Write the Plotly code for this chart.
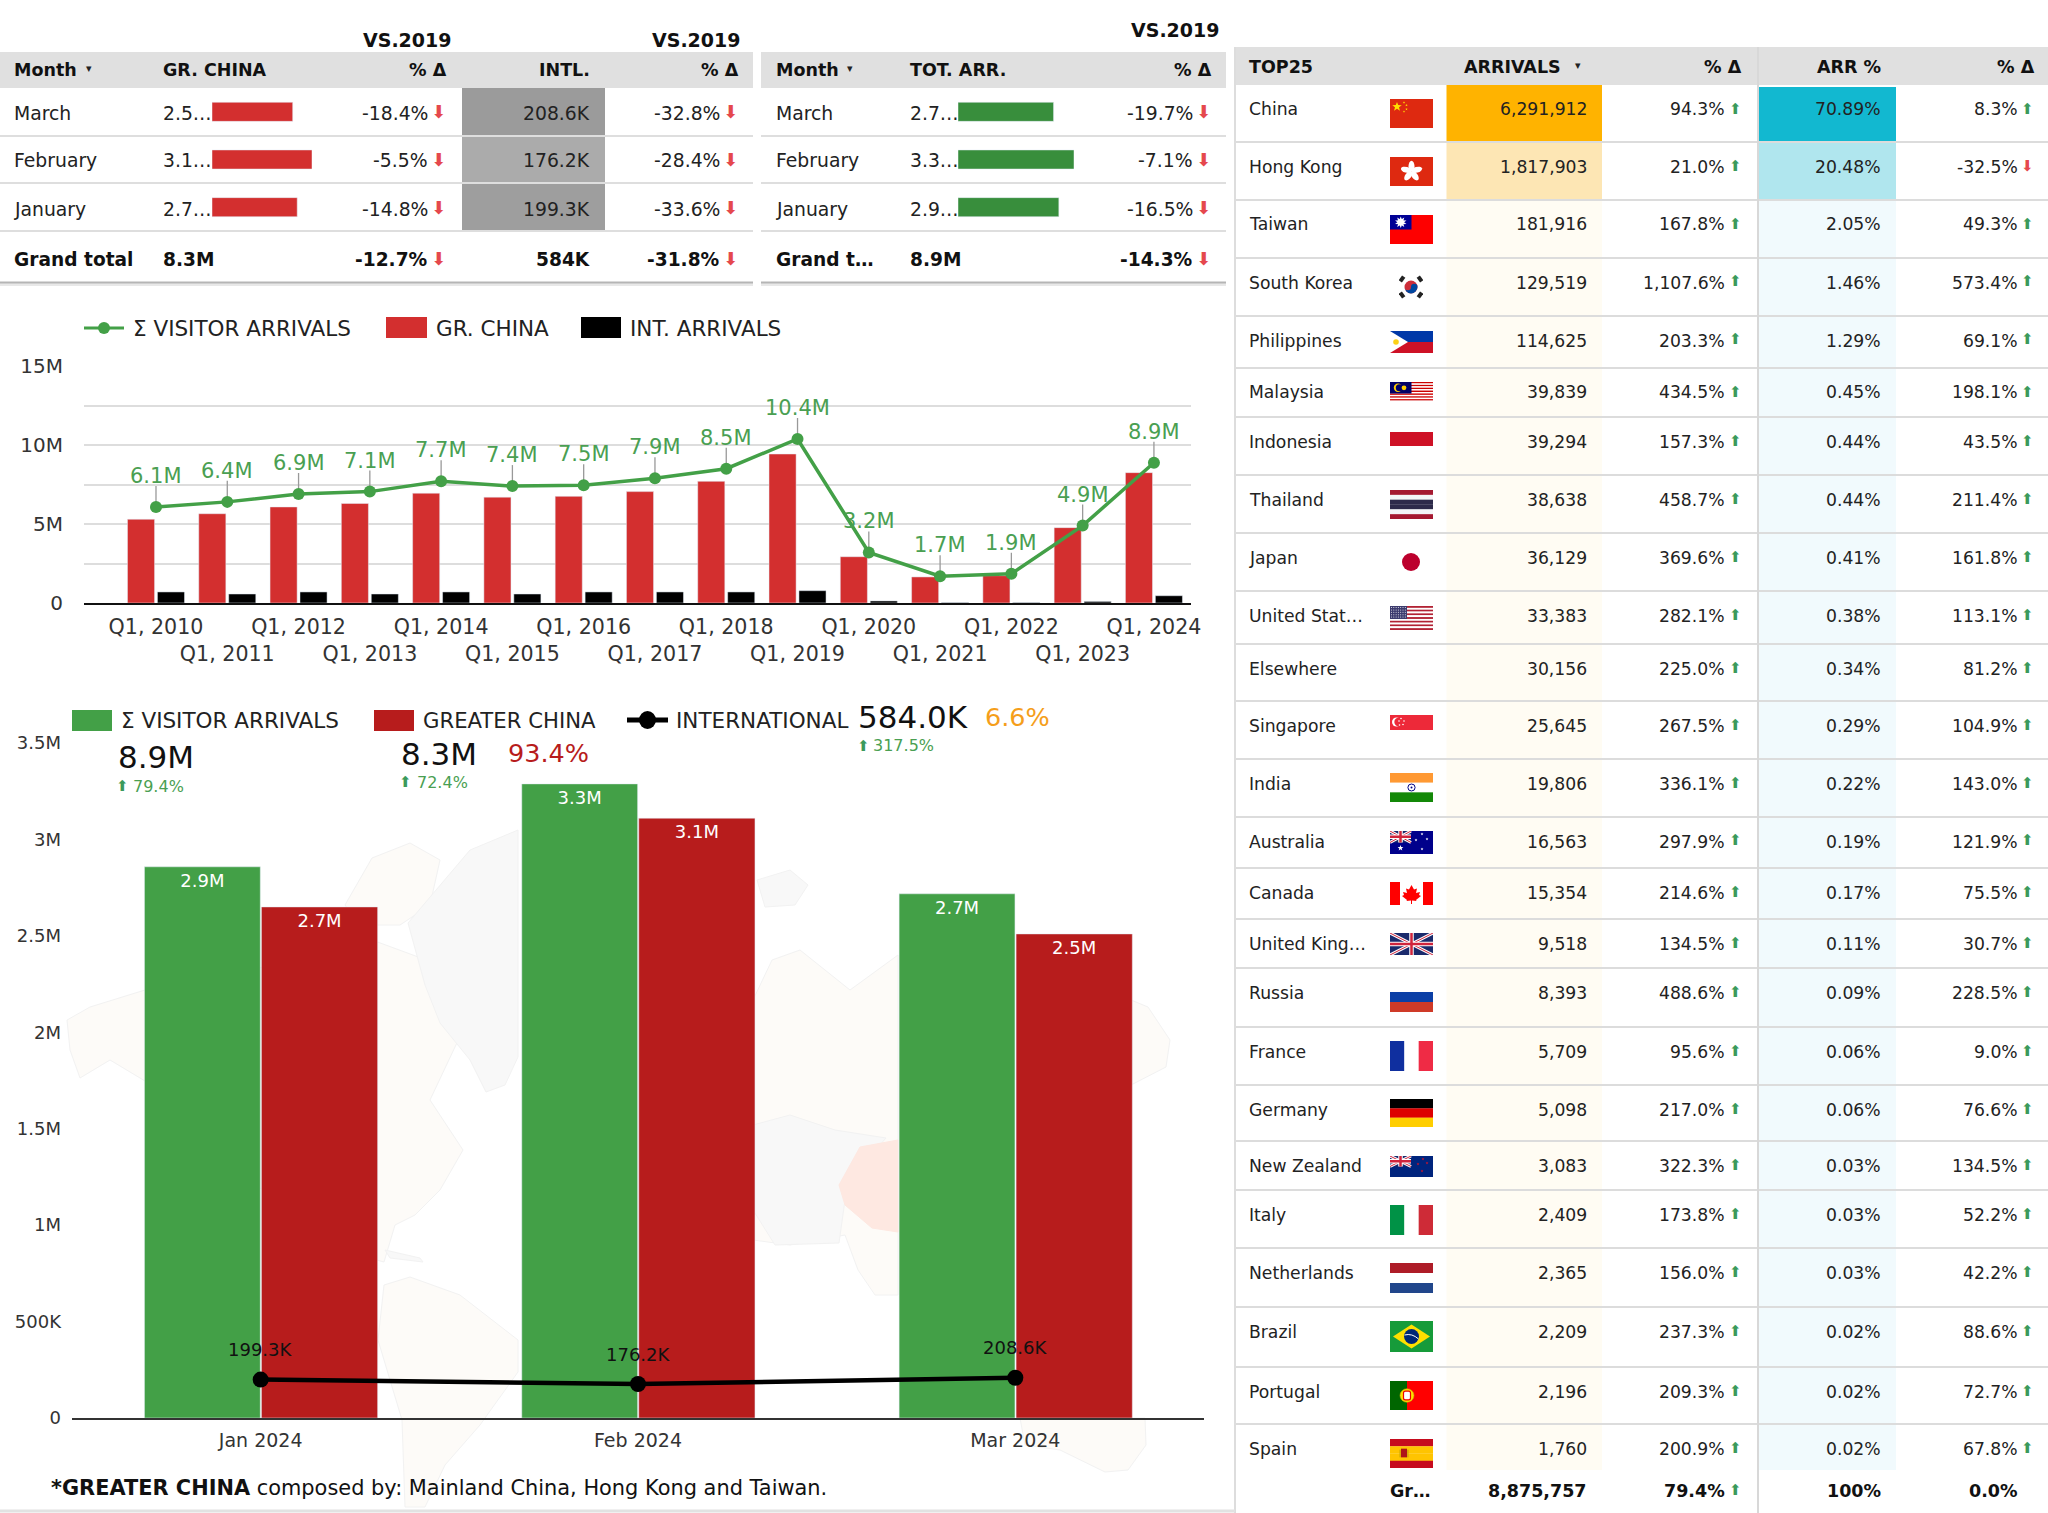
import base64
import math
import plotly.graph_objects as go

W, H = 2048, 1513
FONT = "DejaVu Sans"

# ---------- data ----------
months = ["March", "February", "January"]
gr_china_vals = [2510000, 3110000, 2650000]
gr_china_txt = ["2.5…", "3.1…", "2.7…"]
gr_china_pct = ["-18.4%", "-5.5%", "-14.8%"]
intl_txt = ["208.6K", "176.2K", "199.3K"]
intl_pct = ["-32.8%", "-28.4%", "-33.6%"]
tot_vals = [2710000, 3290000, 2860000]
tot_txt = ["2.7…", "3.3…", "2.9…"]
tot_pct = ["-19.7%", "-7.1%", "-16.5%"]

quarters = ["Q1, %d" % y for y in range(2010, 2025)]
q_total = [6.07, 6.4, 6.9, 7.05, 7.7, 7.4, 7.45, 7.9, 8.5, 10.38, 3.2, 1.7, 1.85, 4.9, 8.88]
q_total_lbl = ["6.1M", "6.4M", "6.9M", "7.1M", "7.7M", "7.4M", "7.5M", "7.9M", "8.5M", "10.4M", "3.2M", "1.7M", "1.9M", "4.9M", "8.9M"]
q_china = [5.3, 5.65, 6.08, 6.3, 6.95, 6.7, 6.75, 7.05, 7.7, 9.43, 2.93, 1.65, 1.73, 4.77, 8.25]
q_intl = [0.7, 0.57, 0.7, 0.57, 0.7, 0.57, 0.7, 0.7, 0.7, 0.78, 0.13, 0.03, 0.03, 0.1, 0.46]

m_labels = ["Jan 2024", "Feb 2024", "Mar 2024"]
m_total = [2858000, 3288000, 2718000]
m_total_lbl = ["2.9M", "3.3M", "2.7M"]
m_china = [2650000, 3110000, 2510000]
m_china_lbl = ["2.7M", "3.1M", "2.5M"]
m_intl = [199300, 176200, 208600]
m_intl_lbl = ["199.3K", "176.2K", "208.6K"]

countries = ["China", "Hong Kong", "Taiwan", "South Korea", "Philippines", "Malaysia", "Indonesia", "Thailand",
             "Japan", "United Stat…", "Elsewhere", "Singapore", "India", "Australia", "Canada", "United King…",
             "Russia", "France", "Germany", "New Zealand", "Italy", "Netherlands", "Brazil", "Portugal", "Spain"]
arrivals = ["6,291,912", "1,817,903", "181,916", "129,519", "114,625", "39,839", "39,294", "38,638", "36,129",
            "33,383", "30,156", "25,645", "19,806", "16,563", "15,354", "9,518", "8,393", "5,709", "5,098",
            "3,083", "2,409", "2,365", "2,209", "2,196", "1,760"]
arr_pct = ["94.3%", "21.0%", "167.8%", "1,107.6%", "203.3%", "434.5%", "157.3%", "458.7%", "369.6%", "282.1%",
           "225.0%", "267.5%", "336.1%", "297.9%", "214.6%", "134.5%", "488.6%", "95.6%", "217.0%", "322.3%",
           "173.8%", "156.0%", "237.3%", "209.3%", "200.9%"]
share = ["70.89%", "20.48%", "2.05%", "1.46%", "1.29%", "0.45%", "0.44%", "0.44%", "0.41%", "0.38%", "0.34%",
         "0.29%", "0.22%", "0.19%", "0.17%", "0.11%", "0.09%", "0.06%", "0.06%", "0.03%", "0.03%", "0.03%",
         "0.02%", "0.02%", "0.02%"]
share_pct = ["8.3%", "-32.5%", "49.3%", "573.4%", "69.1%", "198.1%", "43.5%", "211.4%", "161.8%", "113.1%",
             "81.2%", "104.9%", "143.0%", "121.9%", "75.5%", "30.7%", "228.5%", "9.0%", "76.6%", "134.5%",
             "52.2%", "42.2%", "88.6%", "72.7%", "67.8%"]

# ---------- helpers ----------
def X(x): return x / W
def Y(y): return 1 - y / H

annos, shapes, images = [], [], []

def txt(s, x, y, size=17, color="#222", anchor="left", bold=False):
    annos.append(dict(text=("<b>%s</b>" % s) if bold else s, x=X(x), y=Y(y), xref="paper", yref="paper",
                      xanchor=anchor, yanchor="middle", showarrow=False,
                      font=dict(family=FONT, size=size, color=color), borderpad=0, borderwidth=0))

def rect(x0, y0, x1, y1, fill, line=None):
    shapes.append(dict(type="rect", xref="paper", yref="paper", x0=X(x0), x1=X(x1), y0=Y(y0), y1=Y(y1),
                       fillcolor=fill, line=dict(width=0) if not line else dict(width=1, color=line), layer="below"))

def hline(x0, x1, y, color="#dcdcdc", w=2):
    shapes.append(dict(type="line", xref="paper", yref="paper", x0=X(x0), x1=X(x1), y0=Y(y), y1=Y(y),
                       line=dict(color=color, width=w), layer="below"))

def vline(x, y0, y1, color="#dcdcdc", w=2):
    shapes.append(dict(type="line", xref="paper", yref="paper", x0=X(x), x1=X(x), y0=Y(y0), y1=Y(y1),
                       line=dict(color=color, width=w), layer="below"))

def arrow(x, y, up, size=18):
    txt("⬆" if up else "⬇", x, y, size=size, color="#3b9a5b" if up else "#e5484d", anchor="center")

def svg_img(body, vw, vh, x0, y0, x1, y1, layer="above"):
    svg = ('<svg xmlns="http://www.w3.org/2000/svg" viewBox="0 0 %g %g" width="%g" height="%g" '
           'preserveAspectRatio="none">%s</svg>' % (vw, vh, (x1 - x0) * 3, (y1 - y0) * 3, body))
    uri = "data:image/svg+xml;base64," + base64.b64encode(svg.encode()).decode()
    images.append(dict(source=uri, xref="paper", yref="paper", x=X(x0), y=Y(y0), sizex=(x1 - x0) / W,
                       sizey=(y1 - y0) / H, xanchor="left", yanchor="top", sizing="stretch", layer=layer))

# ---------- background world map (faint) ----------
def poly(pts, fill, stroke="#f2f2f2"):
    return '<polygon points="%s" fill="%s" stroke="%s" stroke-width="1"/>' % (
        " ".join("%d,%d" % p for p in pts), fill, stroke)

BEIGE, GREY = "#fdfbf8", "#f8f8f8"
map_body = "".join([
    poly([(67,1020),(90,1007),(145,990),(300,960),(345,930),(440,965),(463,1030),(430,1100),(463,1150),(440,1190),(415,1215),(395,1225),(384,1262),(340,1250),(250,1180),(160,1090),(110,1060),(80,1078),(70,1050)], BEIGE),
    poly([(345,905),(372,858),(410,843),(440,860),(430,905),(400,925),(360,925)], BEIGE),
    poly([(518,830),(470,850),(408,923),(425,985),(440,1023),(470,1060),(486,1092),(505,1085),(518,1057)], GREY),
    poly([(384,1285),(410,1277),(460,1295),(518,1340),(518,1372),(480,1425),(445,1465),(425,1507),(405,1507),(402,1420),(378,1340)], BEIGE),
    poly([(385,1250),(420,1258),(423,1262),(390,1258)], GREY),
    poly([(757,880),(790,870),(808,885),(795,905),(765,907)], GREY),
    poly([(753,1000),(772,960),(800,950),(850,990),(898,955),(898,1295),(875,1295),(858,1270),(845,1235),(790,1245),(753,1240)], BEIGE),
    poly([(753,1125),(790,1115),(835,1130),(886,1138),(862,1165),(845,1200),(839,1243),(775,1245),(753,1210)], GREY),
    poly([(860,1147),(898,1140),(898,1232),(872,1228),(845,1205),(839,1185)], "#fee8e1", "#fee8e1"),
    poly([(1131,1000),(1148,1007),(1170,1040),(1166,1067),(1131,1085)], BEIGE),
    poly([(1020,1418),(1145,1418),(1146,1445),(1128,1470),(1105,1472),(1060,1450),(1025,1445)], BEIGE),
])
svg_img(map_body, W, H, 0, 0, W, H, layer="below")

# ---------- top-left tables ----------
TOP = 52
row_b = [88, 136, 183, 231, 282]
row_c = [113, 160, 209]
TOTAL_Y = 259

def table_frame(x0, x1):
    rect(x0, TOP, x1, 88, "#e0e0e0")
    for y in row_b[1:4]:
        hline(x0, x1, y, "#dedede", 2)
    hline(x0, x1, 284, "#e8e8e8", 4)
    hline(x0, x1, 282.5, "#b5b5b5", 2)

table_frame(0, 753)
table_frame(761, 1226)
for i, c in enumerate(["#9b9b9b", "#ababab", "#9e9e9e"]):
    rect(462, row_b[i] + (1 if i else 0), 605, row_b[i + 1] - 1, c)

hdr = dict(size=17.5, color="#111", bold=True)
vs = dict(size=19, color="#111", bold=True)
txt("Month", 14, 70, **hdr); txt("▾", 89, 69, size=11, color="#222", anchor="center")
txt("GR. CHINA", 163, 70, **hdr)
txt("% Δ", 447, 70, anchor="right", **hdr)
txt("INTL.", 590, 70, anchor="right", **hdr)
txt("% Δ", 739, 70, anchor="right", **hdr)
txt("VS.2019", 407, 40, anchor="center", **vs)
txt("VS.2019", 696, 40, anchor="center", **vs)
txt("VS.2019", 1175, 30, anchor="center", **vs)
txt("Month", 776, 70, **hdr); txt("▾", 850, 69, size=11, color="#222", anchor="center")
txt("TOT. ARR.", 910, 70, **hdr)
txt("% Δ", 1212, 70, anchor="right", **hdr)

BODY = 18.8
for i, m in enumerate(months):
    y = row_c[i]
    txt(m, 14, y, size=BODY)
    txt(gr_china_txt[i], 163, y, size=BODY)
    txt(gr_china_pct[i], 428, y, size=BODY, anchor="right"); arrow(438, y - 1, False)
    txt(intl_txt[i], 590, y, size=BODY, anchor="right")
    txt(intl_pct[i], 720, y, size=BODY, anchor="right"); arrow(730, y - 1, False)
    txt(m, 776, y, size=BODY)
    txt(tot_txt[i], 910, y, size=BODY)
    txt(tot_pct[i], 1193, y, size=BODY, anchor="right"); arrow(1203, y - 1, False)

bt = dict(size=18.6, color="#111", bold=True)
txt("Grand total", 14, TOTAL_Y, **bt); txt("8.3M", 163, TOTAL_Y, **bt)
txt("-12.7%", 428, TOTAL_Y, anchor="right", **bt); arrow(438, TOTAL_Y - 1, False)
txt("584K", 590, TOTAL_Y, anchor="right", **bt)
txt("-31.8%", 720, TOTAL_Y, anchor="right", **bt); arrow(730, TOTAL_Y - 1, False)
txt("Grand t…", 776, TOTAL_Y, **bt); txt("8.9M", 910, TOTAL_Y, **bt)
txt("-14.3%", 1193, TOTAL_Y, anchor="right", **bt); arrow(1203, TOTAL_Y - 1, False)

# ---------- legends / KPIs ----------
LEG = 21.5
LY = 328
shapes.append(dict(type="line", xref="paper", yref="paper", x0=X(84), x1=X(124), y0=Y(LY), y1=Y(LY), line=dict(color="#43a047", width=3)))
shapes.append(dict(type="circle", xref="paper", yref="paper", x0=X(98), x1=X(110), y0=Y(LY - 6), y1=Y(LY + 6), fillcolor="#43a047", line=dict(width=0)))
txt("Σ VISITOR ARRIVALS", 133, LY, size=LEG, color="#222")
rect(386, 317, 427, 338, "#d32f2f")
txt("GR. CHINA", 436, LY, size=LEG, color="#222")
rect(581, 317, 621, 338, "#000000")
txt("INT. ARRIVALS", 630, LY, size=LEG, color="#222")

rect(72, 710, 112, 731, "#43a047")
txt("Σ VISITOR ARRIVALS", 121, 720, size=LEG, color="#222")
rect(374, 710, 414, 731, "#b71c1c")
txt("GREATER CHINA", 423, 720, size=21.2, color="#222")
shapes.append(dict(type="line", xref="paper", yref="paper", x0=X(627), x1=X(668), y0=Y(720), y1=Y(720), line=dict(color="#000", width=5)))
shapes.append(dict(type="circle", xref="paper", yref="paper", x0=X(639), x1=X(656), y0=Y(711), y1=Y(729), fillcolor="#000", line=dict(width=0)))
txt("INTERNATIONAL", 676, 720, size=LEG, color="#222")

txt("8.9M", 118, 757, size=31, color="#111")
arrow(122, 786, True, 15); txt("79.4%", 133, 786, size=16, color="#4a9f52")
txt("8.3M", 401, 754, size=31, color="#111")
txt("93.4%", 508, 753, size=25.5, color="#b71c1c")
arrow(405, 782, True, 15); txt("72.4%", 417, 782, size=16, color="#4a9f52")
txt("584.0K", 858, 717, size=31, color="#111")
txt("6.6%", 985, 717, size=25.5, color="#f59e1b")
arrow(863, 746, True, 15); txt("317.5%", 873, 746, size=16, color="#4a9f52")
annos.append(dict(text="<b>*GREATER CHINA</b> composed by: Mainland China, Hong Kong and Taiwan.", x=X(49), y=Y(1488),
                  xref="paper", yref="paper", xanchor="left", yanchor="middle", showarrow=False,
                  font=dict(family=FONT, size=20.9, color="#111")))

# panel frame lines
vline(1235, 47, 1513, "#dddddd", 2)
hline(0, 1235, 1511, "#e2e2e2", 3)

# ---------- right table ----------
rb = [85, 142, 200, 258, 316, 368, 417, 475, 533, 591, 644, 701, 759, 817, 868, 919, 968, 1027, 1085, 1141,
      1190, 1248, 1307, 1367, 1424, 1470]
rect(1236, 47, W, 85, "#e0e0e0")
rect(1446.5, 85, 1602, 142, "#ffb300"); rect(1446.5, 142, 1602, 200, "#fde6b4")
rect(1446.5, 200, 1602, 1470, "#fffcf3")
rect(1759, 87, 1896, 142, "#12b8d0"); rect(1759, 142, 1896, 200, "#b0e6ee")
rect(1759, 200, 1896, 1470, "#f1fafd")
for y in rb[1:-1]:
    hline(1236, W, y, "#dcdcdc", 2)
vline(1758, 47, 1513, "#d8d8d8", 2)

txt("TOP25", 1249, 67, **hdr)
txt("ARRIVALS", 1464, 67, **hdr); txt("▾", 1578, 66, size=11, color="#222", anchor="center")
txt("% Δ", 1742, 67, anchor="right", **hdr)
txt("ARR %", 1881, 67, anchor="right", **hdr)
txt("% Δ", 2035, 67, anchor="right", **hdr)

RS = 17.2
for i, c in enumerate(countries):
    y = rb[i] + 24.5
    txt(c, 1249, y, size=RS)
    txt(arrivals[i], 1587, y, size=RS, anchor="right")
    txt(arr_pct[i], 1725, y, size=RS, anchor="right"); arrow(1735, y - 1, True, 15)
    txt(share[i], 1881, y, size=RS, anchor="right")
    txt(share_pct[i], 2018, y, size=RS, anchor="right")
    arrow(2027, y - 1, not share_pct[i].startswith("-"), 15)

gt = dict(size=17.5, color="#111", bold=True)
txt("Gr…", 1390, 1491, **gt)
txt("8,875,757", 1587, 1491, anchor="right", **gt)
txt("79.4%", 1725, 1491, anchor="right", **gt); arrow(1735, 1490, True, 15)
txt("100%", 1881, 1491, anchor="right", **gt)
txt("0.0%", 2018, 1491, anchor="right", **gt)

# ---------- flags ----------
def bands(cols, horizontal=True, w=43, h=30):
    n = len(cols); out = ""
    for i, c in enumerate(cols):
        if horizontal:
            out += '<rect x="0" y="%g" width="%g" height="%g" fill="%s"/>' % (i * h / n, w, h / n + .2, c)
        else:
            out += '<rect x="%g" y="0" width="%g" height="%g" fill="%s"/>' % (i * w / n, w / n + .2, h, c)
    return out

def star(cx, cy, r, col):
    pts = []
    for k in range(10):
        a = -math.pi / 2 + k * math.pi / 5
        rr = r if k % 2 == 0 else r * .42
        pts.append("%.2f,%.2f" % (cx + rr * math.cos(a), cy + rr * math.sin(a)))
    return '<polygon points="%s" fill="%s"/>' % (" ".join(pts), col)

def jack(w=21, h=14):
    return ('<rect width="%g" height="%g" fill="#1a2a6c"/>' % (w, h) +
            '<path d="M0 0L%g %g M%g 0L0 %g" stroke="#fff" stroke-width="3"/>' % (w, h, w, h) +
            '<path d="M0 0L%g %g M%g 0L0 %g" stroke="#d0243c" stroke-width="1"/>' % (w, h, w, h) +
            '<path d="M%g 0V%g M0 %gH%g" stroke="#fff" stroke-width="4.5"/>' % (w / 2, h, h / 2, w) +
            '<path d="M%g 0V%g M0 %gH%g" stroke="#d0243c" stroke-width="2.5"/>' % (w / 2, h, h / 2, w))

def stripes(n, a, b, w=43, h=30):
    return "".join('<rect x="0" y="%g" width="%g" height="%g" fill="%s"/>' % (i * h / n, w, h / n + .1, a if i % 2 == 0 else b) for i in range(n))

flags = {
 "China": (99, 128, 30, '<rect width="43" height="30" fill="#de2910"/>' + star(7, 8, 5, "#ffde00") + star(14, 3.5, 1.3, "#ffde00") + star(16.5, 6.5, 1.3, "#ffde00") + star(16.5, 10.5, 1.3, "#ffde00") + star(14, 13, 1.3, "#ffde00")),
 "Hong Kong": (157, 186, 30, '<rect width="43" height="30" fill="#de2910"/>' + "".join('<ellipse cx="21.5" cy="9.5" rx="3" ry="5.5" fill="#fff" transform="rotate(%d 21.5 15)"/>' % a for a in (0, 72, 144, 216, 288))),
 "Taiwan": (215, 244, 30, '<rect width="43" height="30" fill="#fe0000"/><rect width="21.5" height="15" fill="#000095"/>' + star(10.75, 7.5, 6, "#fff") + star(10.75, 7.5, 6, "#fff").replace("polygon", "polygon transform='rotate(36 10.75 7.5)'", 1) + '<circle cx="10.75" cy="7.5" r="2.8" fill="#fff"/>'),
 "Philippines": (331, 353, 22, bands(["#0038a8", "#ce1126"], h=22) + '<polygon points="0,0 18,11 0,22" fill="#fff"/><circle cx="6" cy="11" r="2.8" fill="#fcd116"/>'),
 "Malaysia": (382, 402, 20, stripes(14, "#cc0001", "#fff", h=20) + '<rect width="21.5" height="11.5" fill="#010066"/><circle cx="8" cy="5.8" r="4.2" fill="#ffcc00"/><circle cx="9.3" cy="5.8" r="3.5" fill="#010066"/><circle cx="14" cy="5.8" r="2.4" fill="#ffcc00"/>'),
 "Indonesia": (432, 446, 30, '<rect width="43" height="30" fill="#ce1126"/>'),
 "Thailand": (490, 519, 30, bands(["#a51931", "#f4f5f8", "#2d2a4a", "#2d2a4a", "#f4f5f8", "#a51931"])),
 "United Stat…": (606, 630, 24, stripes(13, "#b22234", "#fff", h=24) + '<rect width="17" height="13" fill="#3c3b6e"/>' + "".join('<circle cx="%g" cy="%g" r=".5" fill="#fff"/>' % (1.5 + i * 2.3, 1.5 + j * 2.4) for i in range(7) for j in range(5))),
 "Singapore": (715, 730, 15, '<rect width="43" height="15" fill="#ed2939"/><circle cx="6.5" cy="7" r="4.5" fill="#fff"/><circle cx="8.5" cy="7" r="4.2" fill="#ed2939"/>' + "".join('<circle cx="%g" cy="%g" r=".8" fill="#fff"/>' % p for p in [(11, 3.5), (14, 6), (13, 9.5), (9.5, 10), (9, 6)])),
 "India": (773, 802, 30, bands(["#ff9933", "#ffffff", "#138808"]) + '<circle cx="21.5" cy="15" r="3.6" fill="none" stroke="#000080" stroke-width="1"/><circle cx="21.5" cy="15" r="1" fill="#000080"/>'),
 "Australia": (831, 854, 23, '<rect width="43" height="23" fill="#00008b"/>' + jack(21, 11.5) + star(10.5, 17, 3, "#fff") + "".join(star(x, y, 1.5, "#fff") for x, y in [(32, 3), (26, 9), (37, 8), (32, 18)])),
 "Canada": (882, 905, 23, bands(["#ff0000", "#ffffff", "#ffffff", "#ff0000"], False, h=23) + '<rect x="10" width="23" height="23" fill="#fff"/><polygon points="21.5,3 24,7.5 27,6.5 26,11 30,10 29,13 31,14 26,18 26.5,19 22,18.5 22,22 21,22 21,18.5 16.5,19 17,18 12,14 14,13 13,10 17,11 16,6.5 19,7.5" fill="#f00"/>'),
 "United King…": (933, 955, 22, jack(43, 22)),
 "Russia": (992, 1012, 20, bands(["#0b3fa6", "#cf3a28"], h=20)),
 "France": (1041, 1071, 30, bands(["#0f2f9f", "#ffffff", "#ef2b45"], False)),
 "Germany": (1099, 1127, 30, bands(["#000000", "#dd0000", "#ffce00"])),
 "New Zealand": (1156, 1177, 21, '<rect width="43" height="21" fill="#00247d"/>' + jack(21, 10.5) + "".join(star(x, y, 1.5, "#cc142b") for x, y in [(33, 3), (28, 8), (37, 7), (32, 15)])),
 "Italy": (1205, 1235, 30, bands(["#009246", "#ffffff", "#ce2b37"], False)),
 "Netherlands": (1263, 1293, 30, bands(["#ae1c28", "#ffffff", "#21468b"])),
 "Brazil": (1321, 1352, 31, '<rect width="43" height="31" fill="#169b3a"/><polygon points="21.5,3.5 40,15.5 21.5,27.5 3,15.5" fill="#fedf00"/><circle cx="21.5" cy="15.5" r="7.5" fill="#002776"/><path d="M14.5 14 Q22 12 28.5 18" stroke="#fff" stroke-width="1" fill="none"/>'),
 "Portugal": (1381, 1410, 30, '<rect width="43" height="30" fill="#ff0000"/><rect width="17" height="30" fill="#006600"/><circle cx="17" cy="15" r="7" fill="#ffe000" stroke="#c8a400" stroke-width=".6"/><rect x="13.5" y="10.5" width="7" height="9" rx="2" fill="#fff" stroke="#e00" stroke-width="1.2"/>'),
 "Spain": (1439, 1468, 30, bands(["#c60b1e", "#ffc400", "#ffc400", "#c60b1e"]) + '<rect x="11" y="10" width="6" height="9" fill="#ad1519"/><rect x="9.5" y="11" width="1.2" height="8" fill="#c8a400"/><rect x="17.3" y="11" width="1.2" height="8" fill="#c8a400"/>'),
}
for name, (y0, y1, vh, body) in flags.items():
    svg_img(body, 43, vh, 1390, y0, 1433, y1)

kr = ('<circle cx="12" cy="12" r="6.5" fill="#cd2e3a"/><path d="M5.5 12 a6.5 6.5 0 0 0 13 0 a3.25 3.25 0 0 0 -6.5 0 a3.25 3.25 0 0 1 -6.5 0" fill="#0047a0"/>' +
      "".join('<rect x="-3" y="-2" width="6" height="4" fill="#222" transform="translate(%g %g) rotate(%d)"/>' % t for t in [(3, 4, -55), (21, 4, 55), (3, 20, 55), (21, 20, -55)]))
svg_img(kr, 24, 24, 1399, 275, 1423, 299)
svg_img('<circle cx="9" cy="9" r="9" fill="#bc002d"/>', 18, 18, 1402, 553, 1420, 571)

# ---------- figure ----------
fig = go.Figure()

fig.add_trace(go.Bar(y=months, x=gr_china_vals, orientation="h", marker=dict(color="#d32f2f"), width=0.4, xaxis="x3", yaxis="y3"))
fig.add_trace(go.Bar(y=months, x=tot_vals, orientation="h", marker=dict(color="#388e3c"), width=0.4, xaxis="x4", yaxis="y4"))

fig.add_trace(go.Bar(x=quarters, y=[v * 1e6 for v in q_china], marker=dict(color="#d32f2f"), width=0.38, offset=-0.40, xaxis="x", yaxis="y"))
fig.add_trace(go.Bar(x=quarters, y=[v * 1e6 for v in q_intl], marker=dict(color="#000000"), width=0.38, offset=0.02, xaxis="x", yaxis="y"))
fig.add_trace(go.Scatter(x=quarters, y=[v * 1e6 for v in q_total], mode="lines+markers",
                         line=dict(color="#43a047", width=3.5), marker=dict(color="#43a047", size=12),
                         error_y=dict(type="constant", value=1.33e6, symmetric=False, valueminus=0, color="#999999", thickness=1.3, width=0),
                         xaxis="x", yaxis="y"))
for q, v, l in zip(quarters, q_total, q_total_lbl):
    annos.append(dict(text=l, x=q, y=v * 1e6, xref="x", yref="y", yshift=31, showarrow=False, yanchor="middle",
                      font=dict(family=FONT, size=21, color="#4a9f52")))

fig.add_trace(go.Bar(x=m_labels, y=m_total, text=m_total_lbl, textposition="inside", insidetextanchor="end", textangle=0,
                     textfont=dict(family=FONT, size=18, color="#fff"), marker=dict(color="#43a047"),
                     width=0.307, offset=-0.308, xaxis="x2", yaxis="y2"))
fig.add_trace(go.Bar(x=m_labels, y=m_china, text=m_china_lbl, textposition="inside", insidetextanchor="end", textangle=0,
                     textfont=dict(family=FONT, size=18, color="#fff"), marker=dict(color="#b71c1c"),
                     width=0.308, offset=0.002, xaxis="x2", yaxis="y2"))
fig.add_trace(go.Scatter(x=m_labels, y=m_intl, mode="lines+markers", line=dict(color="#000", width=4.5),
                         marker=dict(color="#000", size=16), xaxis="x2", yaxis="y2"))
for m, v, l in zip(m_labels, m_intl, m_intl_lbl):
    annos.append(dict(text=l, x=m, y=v, xref="x2", yref="y2", yshift=30, showarrow=False, yanchor="middle",
                      font=dict(family=FONT, size=18, color="#111")))

hidden = dict(visible=False, fixedrange=True, automargin=False)
fig.update_layout(
    width=W, height=H, margin=dict(l=0, r=0, t=0, b=0, autoexpand=False), autosize=False,
    paper_bgcolor="#ffffff", plot_bgcolor="rgba(0,0,0,0)", showlegend=False,
    barmode="overlay", font=dict(family=FONT, color="#222"),
    annotations=annos, shapes=shapes, images=images,
    xaxis=dict(domain=[X(84), X(1191)], anchor="y", type="category", range=[-1.01, 14.52], automargin=False,
               tickmode="array", tickvals=quarters,
               ticktext=[q if i % 2 == 0 else "<br>" + q for i, q in enumerate(quarters)],
               ticks="", tickfont=dict(family=FONT, size=20.6, color="#333"), showgrid=False,
               showline=True, linecolor="#111", linewidth=2, ticklabelstandoff=4, tickangle=0, zeroline=False),
    yaxis=dict(domain=[Y(603), Y(366)], anchor="x", range=[0, 15e6], automargin=False,
               tickmode="array", tickvals=[0, 5e6, 10e6, 15e6], ticktext=["0", "5M", "10M", "15M"],
               tickfont=dict(family=FONT, size=20, color="#333"), showgrid=True, gridcolor="#dddddd", gridwidth=1.5,
               zeroline=False, ticks="", ticklabelstandoff=20,
               minor=dict(tickvals=[2.5e6, 7.5e6, 12.5e6], showgrid=True, gridcolor="#dddddd", gridwidth=1.5, ticks="")),
    xaxis2=dict(domain=[X(72), X(1204)], anchor="y2", type="category", range=[-0.5, 2.5], ticks="", automargin=False,
                tickfont=dict(family=FONT, size=19, color="#333"), showgrid=False, ticklabelstandoff=4,
                showline=True, linecolor="#333", linewidth=2, zeroline=False),
    yaxis2=dict(domain=[Y(1418), Y(743)], anchor="x2", range=[0, 3.5e6], automargin=False,
                tickmode="array", tickvals=[0, 5e5, 1e6, 1.5e6, 2e6, 2.5e6, 3e6, 3.5e6],
                ticktext=["0", "500K", "1M", "1.5M", "2M", "2.5M", "3M", "3.5M"],
                tickfont=dict(family=FONT, size=18, color="#333"), showgrid=False, zeroline=False,
                ticks="", ticklabelstandoff=10),
    xaxis3=dict(domain=[X(212), X(312)], anchor="y3", range=[0, 3.11e6], **hidden),
    yaxis3=dict(domain=[Y(231), Y(88)], anchor="x3", type="category", autorange=False, range=[2.5, -0.5], **hidden),
    xaxis4=dict(domain=[X(958), X(1074)], anchor="y4", range=[0, 3.29e6], **hidden),
    yaxis4=dict(domain=[Y(231), Y(88)], anchor="x4", type="category", autorange=False, range=[2.5, -0.5], **hidden),
)

fig.write_html("out.html", config=dict(displayModeBar=False), post_script="document.body.style.margin='0';document.body.style.overflow='hidden';")
